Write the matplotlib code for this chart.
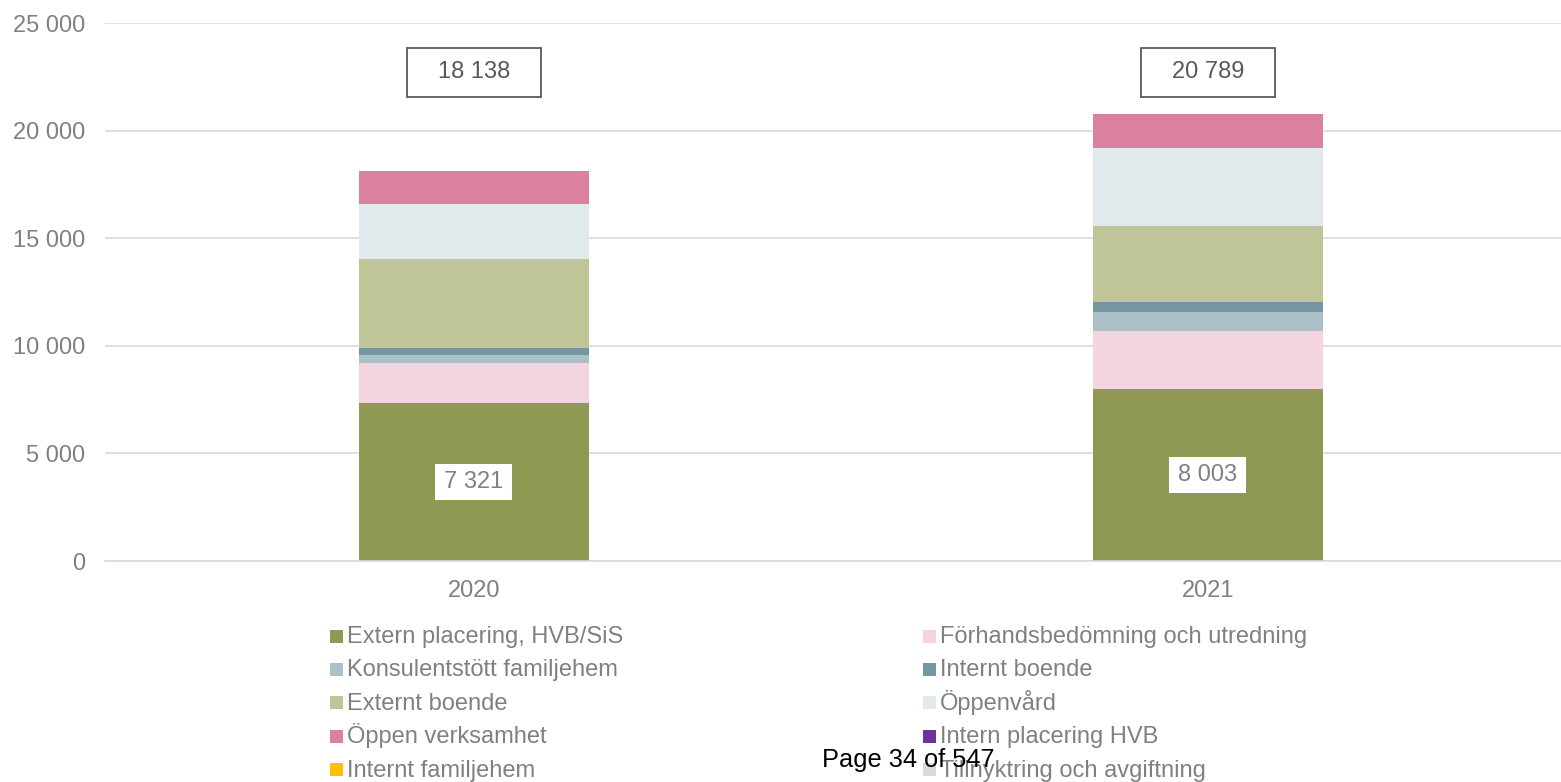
import matplotlib.pyplot as plt
from matplotlib.patches import Rectangle
from matplotlib.transforms import ScaledTranslation
import numpy as np

plt.rcParams['font.family'] = ['Liberation Sans', 'DejaVu Sans']

# ===== DATA =====
years = ["2020", "2021"]
series = [
    "Extern placering, HVB/SiS",
    "Förhandsbedömning och utredning",
    "Konsulentstött familjehem",
    "Internt boende",
    "Externt boende",
    "Öppenvård",
    "Öppen verksamhet",
    "Intern placering HVB",
    "Internt familjehem",
    "Tillnyktring och avgiftning",
]
values = {
    "Extern placering, HVB/SiS":       [7321, 8003],
    "Förhandsbedömning och utredning": [1880, 2670],
    "Konsulentstött familjehem":       [390, 900],
    "Internt boende":                  [310, 480],
    "Externt boende":                  [4130, 3530],
    "Öppenvård":                       [2570, 3610],
    "Öppen verksamhet":                [1537, 1596],
    "Intern placering HVB":            [0, 0],
    "Internt familjehem":              [0, 0],
    "Tillnyktring och avgiftning":     [0, 0],
}
totals = [18138, 20789]
colors = ["#8F9953", "#F4D4DF", "#ABC0C7", "#7396A0", "#BFC597",
          "#E0E9EB", "#DC80A0", "#7030A0", "#FFC000", "#D9D9D9"]

GRAY = "#808080"
W, H = 1561, 782
fmt = lambda v: f"{v:,}".replace(",", " ")

# ===== FIGURE =====
fig = plt.figure(figsize=(W / 100, H / 100), dpi=100)
ax = fig.add_axes([105 / W, 1 - 561 / H, 1 - 105 / W, (561 - 23) / H])

x = np.arange(len(years))
width = 0.313
bottom = np.zeros(len(years))
for name, c in zip(series, colors):
    v = np.array(values[name], dtype=float)
    ax.bar(x, v, width, bottom=bottom, color=c, label=name, zorder=3)
    bottom += v

ax.set_xlim(-0.5027, 1.481)
ax.set_ylim(0, 25000)
ax.set_yticks(range(0, 25001, 5000))
ax.set_yticklabels([fmt(t) for t in range(0, 25001, 5000)])
ax.set_xticks(x)
ax.set_xticklabels(years)
ax.tick_params(axis="both", length=0, labelsize=17, labelcolor=GRAY)
ax.tick_params(axis="y", pad=14)
ax.tick_params(axis="x", pad=14)
ax.grid(axis="y", color="#D9D9D9", linewidth=1.2, zorder=0)
for s in ["left", "right", "top"]:
    ax.spines[s].set_visible(False)
ax.spines["bottom"].set_color("#D9D9D9")
ax.spines["bottom"].set_linewidth(1.2)
ax.spines["bottom"].set_zorder(4)


def box_label(xv, yv, text, w, h, face, edge, tcolor):
    trans = fig.dpi_scale_trans + ScaledTranslation(xv, yv, ax.transData)
    ax.add_patch(Rectangle((-w / 200, -h / 200), w / 100, h / 100, transform=trans,
                           facecolor=face, edgecolor=edge, linewidth=1.3, zorder=5))
    ax.text(xv, yv, text, ha="center", va="center", fontsize=17, color=tcolor, zorder=6)


# totals on top
for xi, t in zip(x, totals):
    box_label(xi, 22700, fmt(t), 134, 49, "white", "#595959", "#595959")

# first segment labels
for xi, v in zip(x, values[series[0]]):
    box_label(xi, v / 2, fmt(v), 77, 36, "white", "none", GRAY)

# ===== LEGEND (two columns, row-major like the original) =====
col_x = [330, 923]
for i, (name, c) in enumerate(zip(series, colors)):
    mx = col_x[i % 2]
    my = 636 + (i // 2) * 33.4
    fig.add_artist(Rectangle((mx / W, 1 - (my + 6.5) / H), 13 / W, 13 / H,
                             transform=fig.transFigure, facecolor=c, edgecolor="none"))
    fig.text((mx + 17) / W, 1 - (my + 7) / H, name, fontsize=17, color=GRAY,
             ha="left", va="baseline")

fig.text(822 / W, 1 - 767 / H, "Page 34 of 547", fontsize=18.3, color="black",
         ha="left", va="baseline")

fig.savefig("out.png", dpi=100)
